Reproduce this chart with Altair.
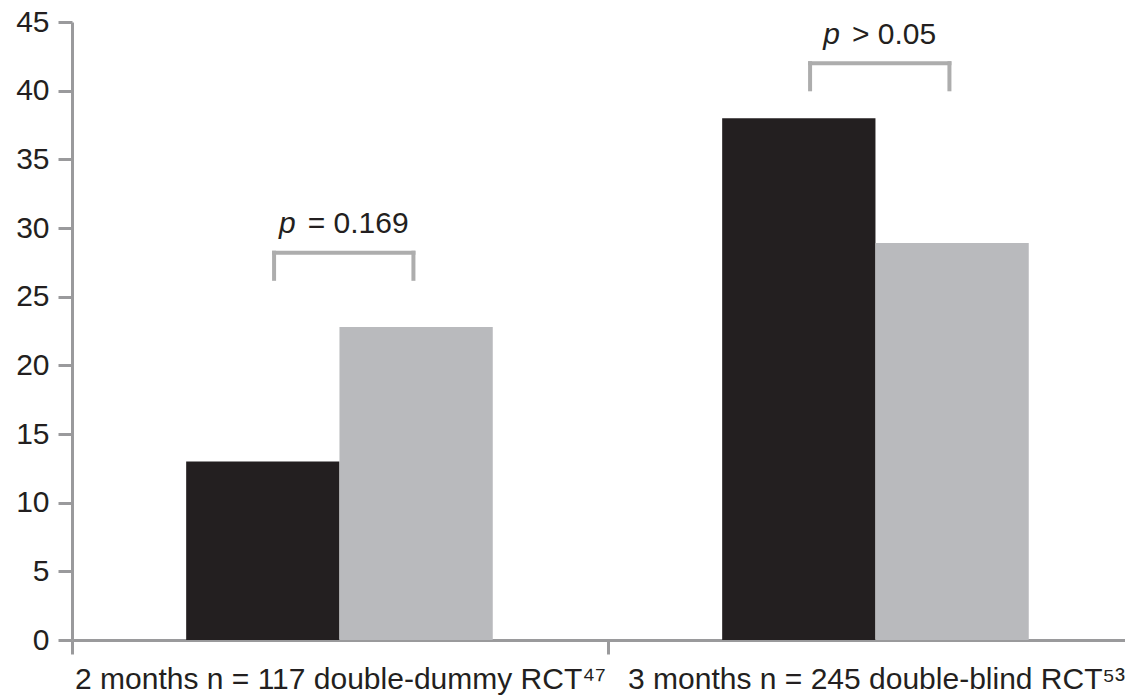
import altair as alt
import pandas as pd

# ---- data ----
groups = ["2 months n = 117 double-dummy RCT⁴⁷", "3 months n = 245 double-blind RCT⁵³"]
series = ["Treatment A", "Treatment B"]
black_vals = [13.0, 38.0]
grey_vals = [22.8, 28.9]
p_symbol = "p"
p_rest = ["= 0.169", "> 0.05"]
bracket_y = [28.2, 42.0]
y_ticks = [0, 5, 10, 15, 20, 25, 30, 35, 40, 45]

# ---- layout helpers (in x-units: one unit per group) ----
BAR_START = 0.213
BAR_W = 0.286
BR_L, BR_R = 0.377, 0.637
LEG = 1.9
PX_PER_UNIT = 536
PLOT_W = 1053
PLOT_H = 618
FS = 30
GAP = 12  # px between italic p and the rest of the label

# approximate Arial/Liberation Sans advance widths (em) to centre the mixed-style label
_W = {" ": 0.278, "=": 0.584, ">": 0.584, ".": 0.278, "p": 0.556}
def text_w(s):
    return sum(_W.get(c, 0.556) for c in s) * FS

bar_rows = []
for i, g in enumerate(groups):
    for j, (s, v) in enumerate(zip(series, [black_vals[i], grey_vals[i]])):
        x0 = i + BAR_START + j * BAR_W
        bar_rows.append({"group": g, "series": s, "value": v, "x0": x0, "x1": x0 + BAR_W})
bars_df = pd.DataFrame(bar_rows)

seg_rows = []
text_rows = []
for i, (rest, by) in enumerate(zip(p_rest, bracket_y)):
    a, b = i + BR_L, i + BR_R
    seg_rows.append({"x": a, "x2": b, "y": by, "y2": by})
    seg_rows.append({"x": a, "x2": a, "y": by, "y2": by - LEG})
    seg_rows.append({"x": b, "x2": b, "y": by, "y2": by - LEG})
    anchor = (a + b) / 2 + (text_w(p_symbol) - text_w(rest) - GAP) / 2 / PX_PER_UNIT
    text_rows.append({"x": anchor, "y": by + 1.4, "p": p_symbol, "rest": rest})
seg_df = pd.DataFrame(seg_rows)
text_df = pd.DataFrame(text_rows)

AXIS_COLOR = "#9a9a9c"
TEXT_COLOR = "#231f20"
FONT = "Liberation Sans"

label_expr = " : ".join(
    [f"datum.value == {i + 0.5} ? '{g}'" for i, g in enumerate(groups)]
) + " : ''"

x_scale = alt.Scale(domain=[0, PLOT_W / PX_PER_UNIT], nice=False, zero=False)
y_scale = alt.Scale(domain=[0, 45], nice=False)

x_axis = alt.Axis(
    values=[0, 0.5, 1, 1.5],
    labelExpr=label_expr,
    title=None,
    grid=False,
    domainColor=AXIS_COLOR,
    domainWidth=3,
    tickColor=AXIS_COLOR,
    tickWidth=3,
    tickSize=14,
    tickOpacity={"condition": {"test": "datum.value % 1 === 0", "value": 1}, "value": 0},
    labelFont=FONT,
    labelFontSize=FS,
    labelColor=TEXT_COLOR,
    labelPadding=10,
    labelAlign="center",
    labelBaseline="top",
    labelOverlap=False,
    labelBound=False,
    labelFlush=False,
    labelLimit=0,
)

y_axis = alt.Axis(
    values=y_ticks,
    title=None,
    grid=False,
    domainColor=AXIS_COLOR,
    domainWidth=3,
    tickColor=AXIS_COLOR,
    tickWidth=3,
    tickSize=14,
    labelFont=FONT,
    labelFontSize=FS,
    labelColor=TEXT_COLOR,
    labelPadding=9,
)

bars = alt.Chart(bars_df).mark_bar().encode(
    x=alt.X("x0:Q", scale=x_scale, axis=x_axis),
    x2="x1:Q",
    y=alt.Y("value:Q", scale=y_scale, axis=y_axis),
    y2=alt.datum(0),
    color=alt.Color(
        "series:N",
        scale=alt.Scale(domain=series, range=["#231f20", "#b9babd"]),
        legend=None,
    ),
)

brackets = alt.Chart(seg_df).mark_rule(color="#adadad", strokeWidth=4, strokeCap="square").encode(
    x=alt.X("x:Q", scale=x_scale),
    x2="x2:Q",
    y=alt.Y("y:Q", scale=y_scale),
    y2="y2:Q",
)

p_text = alt.Chart(text_df).mark_text(
    font=FONT, fontSize=FS, fontStyle="italic", color=TEXT_COLOR, align="right", baseline="alphabetic"
).encode(
    x=alt.X("x:Q", scale=x_scale),
    y=alt.Y("y:Q", scale=y_scale),
    text="p:N",
)

rest_text = alt.Chart(text_df).mark_text(
    font=FONT, fontSize=FS, color=TEXT_COLOR, align="left", baseline="alphabetic", dx=GAP
).encode(
    x=alt.X("x:Q", scale=x_scale),
    y=alt.Y("y:Q", scale=y_scale),
    text="rest:N",
)

chart = (
    alt.layer(bars, brackets, p_text, rest_text)
    .properties(
        width=PLOT_W,
        height=PLOT_H,
        autosize=alt.AutoSizeParams(type="none"),
        padding={"left": 64, "top": 14, "right": 0, "bottom": 58},
        background="white",
    )
    .configure_view(stroke=None)
)

chart.save("out.html", embed_options={"renderer": "svg", "actions": False})
